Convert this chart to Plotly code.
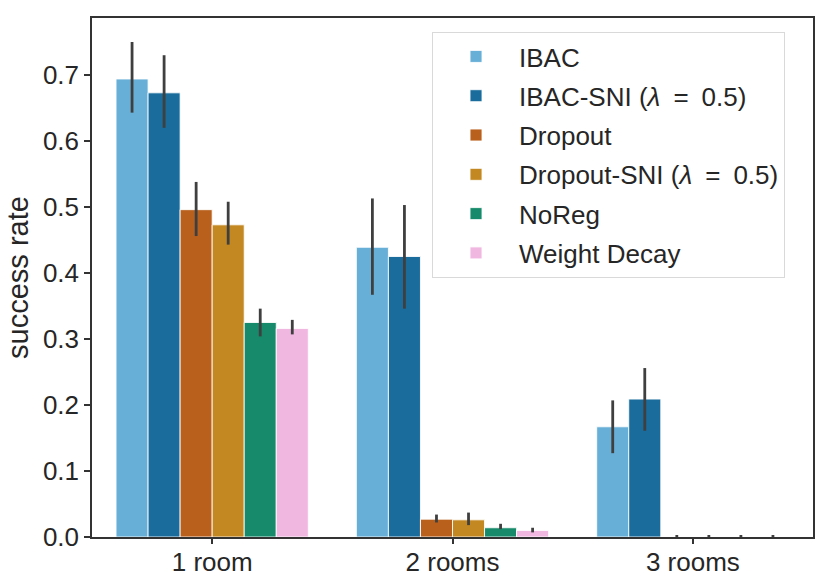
import plotly.graph_objects as go

categories = ["1 room", "2 rooms", "3 rooms"]
series_names = ["IBAC", "IBAC-SNI (<i>\u03bb</i>\u2002=\u20020.5)", "Dropout",
                "Dropout-SNI (<i>\u03bb</i>\u2002=\u20020.5)", "NoReg", "Weight Decay"]
colors = ["#68AFD7", "#196C9B", "#B9601D", "#C38821", "#168A6A", "#F0B8E0"]

ibac = [0.694, 0.439, 0.167]
ibac_hi = [0.750, 0.513, 0.207]
ibac_lo = [0.643, 0.367, 0.127]

ibac_sni = [0.673, 0.425, 0.209]
ibac_sni_hi = [0.730, 0.503, 0.256]
ibac_sni_lo = [0.620, 0.346, 0.161]

dropout = [0.496, 0.027, 0.0]
dropout_hi = [0.538, 0.034, 0.003]
dropout_lo = [0.456, 0.022, 0.0]

dropout_sni = [0.473, 0.026, 0.0]
dropout_sni_hi = [0.508, 0.037, 0.003]
dropout_sni_lo = [0.443, 0.018, 0.0]

noreg = [0.325, 0.014, 0.0]
noreg_hi = [0.346, 0.020, 0.003]
noreg_lo = [0.304, 0.012, 0.0]

wdecay = [0.316, 0.010, 0.0]
wdecay_hi = [0.329, 0.014, 0.003]
wdecay_lo = [0.307, 0.007, 0.0]

y_ticks = [0.0, 0.1, 0.2, 0.3, 0.4, 0.5, 0.6, 0.7]

all_series = [
    (ibac, ibac_hi, ibac_lo),
    (ibac_sni, ibac_sni_hi, ibac_sni_lo),
    (dropout, dropout_hi, dropout_lo),
    (dropout_sni, dropout_sni_hi, dropout_sni_lo),
    (noreg, noreg_hi, noreg_lo),
    (wdecay, wdecay_hi, wdecay_lo),
]

FONT = "Liberation Sans, Arial, sans-serif"
fig = go.Figure()
for i, (name, (v, hi, lo)) in enumerate(zip(series_names, all_series)):
    fig.add_trace(go.Bar(
        x=categories, y=v, name=name,
        legendgroup=f"g{i}",
        marker=dict(color=colors[i], line=dict(color="rgba(255,255,255,0.85)", width=1)),
        error_y=dict(type="data", symmetric=False,
                     array=[h - a for h, a in zip(hi, v)],
                     arrayminus=[a - l for a, l in zip(v, lo)],
                     color="#3f3f3f", thickness=2.8, width=0),
    ))

fig.update_layout(
    width=831, height=585,
    margin=dict(l=92, r=18, t=18, b=48),
    paper_bgcolor="white", plot_bgcolor="white",
    barmode="group", bargap=0.2, bargroupgap=0,
    font=dict(family=FONT, size=26, color="#262626"),
    legend=dict(
        x=0.4716, y=0.973, xanchor="left", yanchor="top",
        bgcolor="white", bordercolor="#d9d9d9", borderwidth=1,
        font=dict(family=FONT, size=26, color="#262626"),
        tracegroupgap=2.5, itemwidth=76,
    ),
    xaxis=dict(
        range=[-0.5, 2.5], showline=True, linecolor="#333333", linewidth=1.5,
        mirror=True, ticks="outside", ticklen=5, tickwidth=1.5, tickcolor="#333333",
        tickfont=dict(size=26, color="#262626"), showgrid=False, automargin=False,
        ticklabelstandoff=-4,
    ),
    yaxis=dict(
        range=[0, 0.7864], showline=True, linecolor="#333333", linewidth=1.5,
        mirror=True, ticks="outside", ticklen=6, tickwidth=1.5, tickcolor="#333333",
        tickvals=y_ticks, tickformat=".1f", tickfont=dict(size=26, color="#262626"),
        showgrid=False, zeroline=False, automargin=False,
        title=dict(text="success rate", font=dict(size=29, color="#262626"), standoff=6),
    ),
)

fig.write_html("out.html", config={"displayModeBar": False},
               post_script="document.body.style.margin='0';document.body.style.padding='0';")
